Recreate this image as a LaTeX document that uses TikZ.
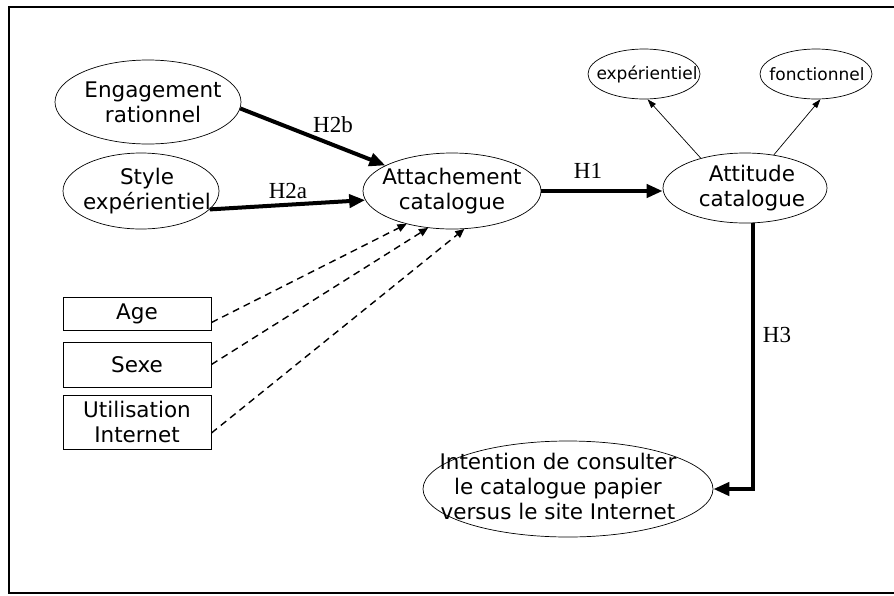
\documentclass[tikz,border=0pt]{standalone}
\usepackage{fontspec}
\setmainfont{DejaVu Sans}
\newfontfamily\lblfont{Liberation Serif}
\usetikzlibrary{shapes.geometric,arrows.meta}
\begin{document}
\begin{tikzpicture}[x=1pt,y=-1pt,
 ell/.style={ellipse,draw,line width=0.7pt,inner sep=0pt},
 big/.style={align=center,font=\fontsize{21.5}{25}\selectfont},
 small/.style={align=center,font=\fontsize{17}{20}\selectfont},
 box/.style={rectangle,draw,line width=0.9pt,inner sep=0pt,align=center,font=\fontsize{21.5}{25}\selectfont,minimum width=148pt},
 thickarrow/.style={line width=4pt,-{Triangle[length=16pt,width=13pt]}},
 thinarrow/.style={line width=0.7pt,-{Triangle[length=9pt,width=6pt]}},
 dasharrow/.style={line width=1.4pt,dash pattern=on 7pt off 5pt,-{Triangle[length=9pt,width=8pt]}},
 hyp/.style={font=\lblfont\fontsize{23}{26}\selectfont}
]
\useasboundingbox (0,0) rectangle (894,595);
\draw[line width=2pt] (9,7) rectangle (910,592.5);

\node[ell,minimum width=186pt,minimum height=84pt,label={[big,xshift=5pt]center:Engagement\\rationnel}] (eng) at (148,102) {};
\node[ell,minimum width=156pt,minimum height=76pt,label={[big,xshift=6pt]center:Style\\expérientiel}] (sty) at (141,191) {};
\node[ell,minimum width=178pt,minimum height=76pt,label={[big]center:Attachement\\catalogue}] (att) at (452,191) {};
\node[ell,minimum width=164pt,minimum height=70pt,label={[big,xshift=7pt]center:Attitude\\catalogue}] (atti) at (745,188) {};
\node[ell,minimum width=112pt,minimum height=50pt,label={[small,xshift=3pt]center:expérientiel}] (exp) at (644,74) {};
\node[ell,minimum width=112pt,minimum height=50pt,label={[small,xshift=1pt]center:fonctionnel}] (fon) at (816,74) {};
\node[ell,minimum width=290pt,minimum height=96pt,label={[big,xshift=-10pt,yshift=3pt]center:Intention de consulter\\le catalogue papier\\versus le site Internet}] (int) at (568,489) {};

\node[box,minimum height=33pt] (age) at (137,313.5) {Age};
\node[box,minimum height=45pt] (sex) at (137,364.5) {Sexe};
\node[box,minimum height=54pt] (uti) at (137,422) {Utilisation\\Internet};

\node[hyp] (h2b) at (333,125) {H2b};
\node[hyp] (h2a) at (288,191) {H2a};
\node[hyp] (h1) at (588,171) {H1};
\node[hyp] (h3) at (777,335) {H3};

\draw[thickarrow] (eng.-4) -- (att.159);
\draw[thickarrow] (sty.-15) -- (att.186);
\draw[thickarrow] (att.east) -- (att.east -| atti.west);
\draw[thickarrow] ([xshift=8pt]atti.south) |- (int.east);
\draw[thinarrow] (atti.146) -- (exp.-82);
\draw[thinarrow] (atti.49) -- (fon.-80);
\draw[dasharrow] ([yshift=-9pt]age.east) -- (att.216);
\draw[dasharrow] (sex.east) -- (att.237);
\draw[dasharrow] ([yshift=-11pt]uti.east) -- (att.288);
\end{tikzpicture}
\end{document}
